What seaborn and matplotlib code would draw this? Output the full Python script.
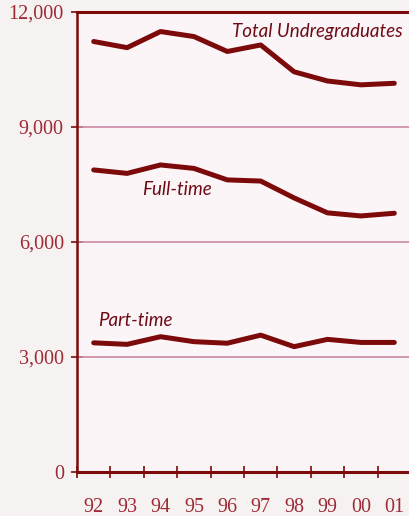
import matplotlib
matplotlib.use("Agg")
import matplotlib.pyplot as plt
import seaborn as sns
import pandas as pd
import numpy as np

years = ["92", "93", "94", "95", "96", "97", "98", "99", "00", "01"]
total = [11230, 11070, 11490, 11360, 10970, 11140, 10440, 10200, 10100, 10140]
full_time = [7880, 7790, 8010, 7920, 7620, 7590, 7150, 6760, 6680, 6750]
part_time = [3370, 3330, 3530, 3400, 3360, 3570, 3270, 3460, 3380, 3380]
y_ticks = [0, 3000, 6000, 9000, 12000]
y_tick_labels = ["0", "3,000", "6,000", "9,000", "12,000"]

series_names = ["Total Undregraduates", "Full-time", "Part-time"]
pos = np.arange(len(years)) + 0.5
df = pd.concat([
    pd.DataFrame({"pos": pos, "value": total, "series": series_names[0]}),
    pd.DataFrame({"pos": pos, "value": full_time, "series": series_names[1]}),
    pd.DataFrame({"pos": pos, "value": part_time, "series": series_names[2]}),
])

sns.set_theme(style="white")
fig_bg = "#F5F2F1"
ax_bg = "#FBF5F8"
line_c = "#7D0A0A"
tick_c = "#9E2A35"
grid_c = "#C98BA6"
label_c = "#6E0A14"

fig = plt.figure(figsize=(4.10, 5.16), dpi=100, facecolor=fig_bg)
ax = fig.add_axes([77/410, 44/516, 334/410, 460/516])
ax.set_facecolor(ax_bg)

for yv in y_ticks[1:-1]:
    ax.axhline(yv, color=grid_c, lw=1.2, zorder=1)

sns.lineplot(data=df, x="pos", y="value", hue="series", palette=[line_c]*3,
             linewidth=3.6, legend=False, ax=ax, zorder=3,
             solid_joinstyle="round", solid_capstyle="round")

ax.set_xlim(0, 10)
ax.set_ylim(0, 12000)
ax.set_xlabel("")
ax.set_ylabel("")

for s in ["left", "bottom", "top"]:
    ax.spines[s].set_color(line_c)
ax.spines["left"].set_linewidth(1.8)
ax.spines["bottom"].set_linewidth(2.2)
ax.spines["top"].set_linewidth(2.2)
ax.spines["right"].set_visible(False)

serif = ["Liberation Serif", "DejaVu Serif"]
ax.set_yticks(y_ticks)
ax.set_yticklabels(y_tick_labels, family=serif, fontsize=14.5, color=tick_c)
ax.tick_params(axis="y", direction="inout", length=9, width=1.2, color=line_c, pad=5, left=True)

ax.set_xticks(np.arange(0, 10))
ax.set_xticklabels([])
ax.set_xticks(pos, minor=True)
ax.set_xticklabels(years, minor=True, family=serif, fontsize=14.5, color=tick_c)
ax.tick_params(axis="x", which="major", direction="inout", length=9, width=1.2, color=line_c, bottom=True)
ax.tick_params(axis="x", which="minor", length=0, pad=19, bottom=True)

sans_it = dict(family=["Lato", "DejaVu Sans"], style="italic", fontsize=13.5, color=label_c)
ax.text(9.75, 11500, series_names[0], ha="right", va="center", **sans_it)
ax.text(1.95, 7360, series_names[1], ha="left", va="center", **sans_it)
ax.text(0.63, 3960, series_names[2], ha="left", va="center", **sans_it)

fig.savefig("out.png", dpi=100, facecolor=fig_bg)
